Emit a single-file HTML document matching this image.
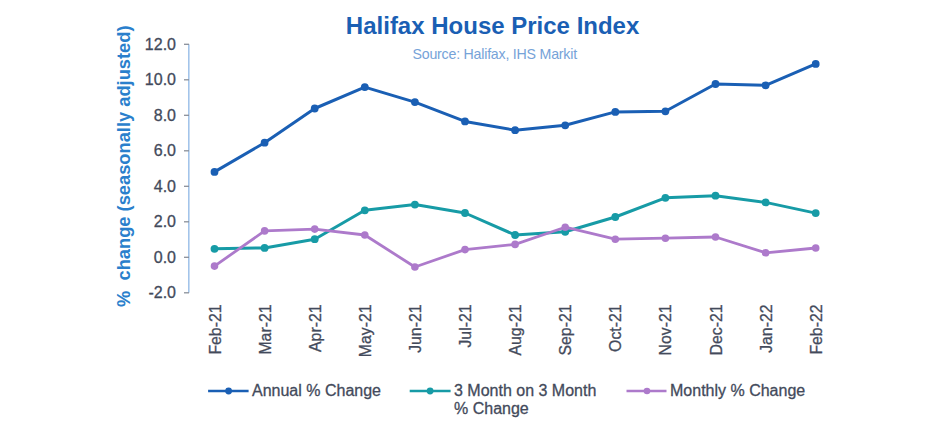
<!DOCTYPE html>
<html><head><meta charset="utf-8"><style>
html,body{margin:0;padding:0;background:#fff;width:925px;height:430px;overflow:hidden}
svg{display:block;font-family:"Liberation Sans",sans-serif}
.t{stroke:#434a5b;stroke-width:0.3px}
</style></head><body>
<svg width="925" height="430" viewBox="0 0 925 430">
<text x="492.6" y="33.8" text-anchor="middle" font-size="24" font-weight="bold" fill="#1a5fb4">Halifax House Price Index</text>
<text x="494.7" y="58.6" text-anchor="middle" font-size="14.2" letter-spacing="-0.22" fill="#76a3d8">Source: Halifax, IHS Markit</text>
<text transform="translate(130.2,166.2) rotate(-90)" text-anchor="middle" font-size="18.3" font-weight="bold" fill="#2a7fcc" style="white-space:pre">%  change (seasonally adjusted)</text>
<line x1="188.8" y1="44.3" x2="188.8" y2="292.8" stroke="#a3c4ea" stroke-width="1.6"/>
<line x1="184" y1="44.3" x2="189" y2="44.3" stroke="#8a8f99" stroke-width="1.3"/>
<text x="176" y="49.8" text-anchor="end" font-size="16" fill="#434a5b" class="t">12.0</text>
<line x1="184" y1="79.8" x2="189" y2="79.8" stroke="#8a8f99" stroke-width="1.3"/>
<text x="176" y="85.3" text-anchor="end" font-size="16" fill="#434a5b" class="t">10.0</text>
<line x1="184" y1="115.3" x2="189" y2="115.3" stroke="#8a8f99" stroke-width="1.3"/>
<text x="176" y="120.8" text-anchor="end" font-size="16" fill="#434a5b" class="t">8.0</text>
<line x1="184" y1="150.8" x2="189" y2="150.8" stroke="#8a8f99" stroke-width="1.3"/>
<text x="176" y="156.3" text-anchor="end" font-size="16" fill="#434a5b" class="t">6.0</text>
<line x1="184" y1="186.3" x2="189" y2="186.3" stroke="#8a8f99" stroke-width="1.3"/>
<text x="176" y="191.8" text-anchor="end" font-size="16" fill="#434a5b" class="t">4.0</text>
<line x1="184" y1="221.8" x2="189" y2="221.8" stroke="#8a8f99" stroke-width="1.3"/>
<text x="176" y="227.3" text-anchor="end" font-size="16" fill="#434a5b" class="t">2.0</text>
<line x1="184" y1="257.3" x2="189" y2="257.3" stroke="#8a8f99" stroke-width="1.3"/>
<text x="176" y="262.8" text-anchor="end" font-size="16" fill="#434a5b" class="t">0.0</text>
<line x1="184" y1="292.8" x2="189" y2="292.8" stroke="#8a8f99" stroke-width="1.3"/>
<text x="176" y="298.3" text-anchor="end" font-size="16" fill="#434a5b" class="t">-2.0</text>
<text transform="translate(220.5,304.5) rotate(-90)" text-anchor="end" font-size="15.8" fill="#434a5b" class="t">Feb-21</text>
<text transform="translate(270.6,304.5) rotate(-90)" text-anchor="end" font-size="15.8" fill="#434a5b" class="t">Mar-21</text>
<text transform="translate(320.7,304.5) rotate(-90)" text-anchor="end" font-size="15.8" fill="#434a5b" class="t">Apr-21</text>
<text transform="translate(370.8,304.5) rotate(-90)" text-anchor="end" font-size="15.8" fill="#434a5b" class="t">May-21</text>
<text transform="translate(420.9,304.5) rotate(-90)" text-anchor="end" font-size="15.8" fill="#434a5b" class="t">Jun-21</text>
<text transform="translate(471.0,304.5) rotate(-90)" text-anchor="end" font-size="15.8" fill="#434a5b" class="t">Jul-21</text>
<text transform="translate(521.1,304.5) rotate(-90)" text-anchor="end" font-size="15.8" fill="#434a5b" class="t">Aug-21</text>
<text transform="translate(571.2,304.5) rotate(-90)" text-anchor="end" font-size="15.8" fill="#434a5b" class="t">Sep-21</text>
<text transform="translate(621.3,304.5) rotate(-90)" text-anchor="end" font-size="15.8" fill="#434a5b" class="t">Oct-21</text>
<text transform="translate(671.4,304.5) rotate(-90)" text-anchor="end" font-size="15.8" fill="#434a5b" class="t">Nov-21</text>
<text transform="translate(721.5,304.5) rotate(-90)" text-anchor="end" font-size="15.8" fill="#434a5b" class="t">Dec-21</text>
<text transform="translate(771.6,304.5) rotate(-90)" text-anchor="end" font-size="15.8" fill="#434a5b" class="t">Jan-22</text>
<text transform="translate(821.7,304.5) rotate(-90)" text-anchor="end" font-size="15.8" fill="#434a5b" class="t">Feb-22</text>
<polyline points="214.5,171.9 264.6,142.7 314.7,108.5 364.8,87.1 414.9,102.1 465.0,121.4 515.1,130.2 565.2,125.3 615.3,111.9 665.4,111.3 715.5,84.0 765.6,85.3 815.7,63.9" fill="none" stroke="#1a5fb4" stroke-width="3" stroke-linejoin="round" stroke-linecap="round"/><circle cx="214.5" cy="171.9" r="3.9" fill="#1a5fb4"/><circle cx="264.6" cy="142.7" r="3.9" fill="#1a5fb4"/><circle cx="314.7" cy="108.5" r="3.9" fill="#1a5fb4"/><circle cx="364.8" cy="87.1" r="3.9" fill="#1a5fb4"/><circle cx="414.9" cy="102.1" r="3.9" fill="#1a5fb4"/><circle cx="465.0" cy="121.4" r="3.9" fill="#1a5fb4"/><circle cx="515.1" cy="130.2" r="3.9" fill="#1a5fb4"/><circle cx="565.2" cy="125.3" r="3.9" fill="#1a5fb4"/><circle cx="615.3" cy="111.9" r="3.9" fill="#1a5fb4"/><circle cx="665.4" cy="111.3" r="3.9" fill="#1a5fb4"/><circle cx="715.5" cy="84.0" r="3.9" fill="#1a5fb4"/><circle cx="765.6" cy="85.3" r="3.9" fill="#1a5fb4"/><circle cx="815.7" cy="63.9" r="3.9" fill="#1a5fb4"/>
<polyline points="214.5,248.8 264.6,247.9 314.7,239.2 364.8,210.3 414.9,204.6 465.0,213.0 515.1,235.0 565.2,231.8 615.3,217.0 665.4,197.8 715.5,195.7 765.6,202.4 815.7,213.1" fill="none" stroke="#179ba6" stroke-width="3" stroke-linejoin="round" stroke-linecap="round"/><circle cx="214.5" cy="248.8" r="3.9" fill="#179ba6"/><circle cx="264.6" cy="247.9" r="3.9" fill="#179ba6"/><circle cx="314.7" cy="239.2" r="3.9" fill="#179ba6"/><circle cx="364.8" cy="210.3" r="3.9" fill="#179ba6"/><circle cx="414.9" cy="204.6" r="3.9" fill="#179ba6"/><circle cx="465.0" cy="213.0" r="3.9" fill="#179ba6"/><circle cx="515.1" cy="235.0" r="3.9" fill="#179ba6"/><circle cx="565.2" cy="231.8" r="3.9" fill="#179ba6"/><circle cx="615.3" cy="217.0" r="3.9" fill="#179ba6"/><circle cx="665.4" cy="197.8" r="3.9" fill="#179ba6"/><circle cx="715.5" cy="195.7" r="3.9" fill="#179ba6"/><circle cx="765.6" cy="202.4" r="3.9" fill="#179ba6"/><circle cx="815.7" cy="213.1" r="3.9" fill="#179ba6"/>
<polyline points="214.5,266.1 264.6,230.9 314.7,229.1 364.8,235.0 414.9,267.0 465.0,249.6 515.1,244.4 565.2,227.2 615.3,239.2 665.4,238.2 715.5,237.0 765.6,252.8 815.7,248.0" fill="none" stroke="#ad7acb" stroke-width="2.8" stroke-linejoin="round" stroke-linecap="round"/><circle cx="214.5" cy="266.1" r="3.8" fill="#ad7acb"/><circle cx="264.6" cy="230.9" r="3.8" fill="#ad7acb"/><circle cx="314.7" cy="229.1" r="3.8" fill="#ad7acb"/><circle cx="364.8" cy="235.0" r="3.8" fill="#ad7acb"/><circle cx="414.9" cy="267.0" r="3.8" fill="#ad7acb"/><circle cx="465.0" cy="249.6" r="3.8" fill="#ad7acb"/><circle cx="515.1" cy="244.4" r="3.8" fill="#ad7acb"/><circle cx="565.2" cy="227.2" r="3.8" fill="#ad7acb"/><circle cx="615.3" cy="239.2" r="3.8" fill="#ad7acb"/><circle cx="665.4" cy="238.2" r="3.8" fill="#ad7acb"/><circle cx="715.5" cy="237.0" r="3.8" fill="#ad7acb"/><circle cx="765.6" cy="252.8" r="3.8" fill="#ad7acb"/><circle cx="815.7" cy="248.0" r="3.8" fill="#ad7acb"/>
<line x1="208.1" y1="391" x2="248.6" y2="391" stroke="#1a5fb4" stroke-width="2.7"/><circle cx="228.6" cy="391" r="3.4" fill="#1a5fb4"/>
<text x="252" y="395.8" font-size="16" fill="#434a5b" class="t">Annual % Change</text>
<line x1="409.7" y1="391" x2="450.6" y2="391" stroke="#179ba6" stroke-width="2.7"/><circle cx="430.1" cy="391" r="3.4" fill="#179ba6"/>
<text x="454" y="395.8" font-size="16" fill="#434a5b" class="t">3 Month on 3 Month</text>
<text x="454" y="413.9" font-size="16" fill="#434a5b" class="t">% Change</text>
<line x1="626.5" y1="391" x2="666.5" y2="391" stroke="#ad7acb" stroke-width="2.5"/><circle cx="647" cy="391" r="3.3" fill="#ad7acb"/>
<text x="670" y="395.8" font-size="16" fill="#434a5b" class="t">Monthly % Change</text>
</svg>
</body></html>
